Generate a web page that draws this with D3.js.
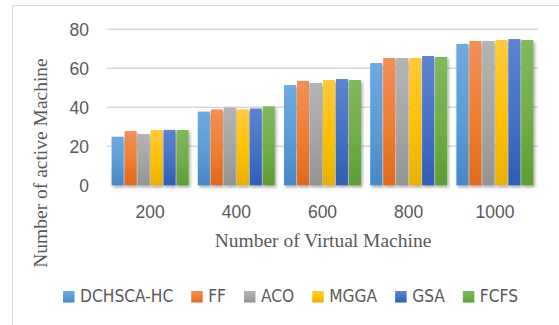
<!DOCTYPE html>
<html>
<head>
<meta charset="utf-8">
<script src="https://cdn.jsdelivr.net/npm/d3@7"></script>
<style>
  html, body { margin: 0; padding: 0; background: #fff; }
  svg { display: block; }
</style>
</head>
<body>
<svg id="chart" width="559" height="325"></svg>
<script>
// Active machines per algorithm for each VM count
const categories = ["200", "400", "600", "800", "1000"];
const seriesNames = ["DCHSCA-HC", "FF", "ACO", "MGGA", "GSA", "FCFS"];
const dchscaHC = [24.9, 37.8, 51.4, 62.7, 72.5];
const ff       = [27.8, 38.9, 53.5, 65.3, 74.0];
const aco      = [26.3, 39.9, 52.5, 65.3, 74.0];
const mgga     = [28.4, 38.9, 54.0, 65.3, 74.5];
const gsa      = [28.4, 39.4, 54.5, 66.3, 75.0];
const fcfs     = [28.4, 40.5, 54.0, 65.8, 74.5];
const yTicks = [0, 20, 40, 60, 80];
const xTitle = "Number of Virtual Machine";
const yTitle = "Number of active Machine";

const seriesValues = [dchscaHC, ff, aco, mgga, gsa, fcfs];
// [top, middle, bottom] gradient stops for each series
const seriesColors = [
  ["#6fa9df", "#5b9bd5", "#4787c6"],
  ["#f1905a", "#ed7d31", "#e0691e"],
  ["#b4b4b4", "#a5a5a5", "#939393"],
  ["#ffca3d", "#ffc000", "#e8b000"],
  ["#5d84cf", "#4472c4", "#2f5db3"],
  ["#80b85d", "#70ad47", "#5e9d35"]
];

const svg = d3.select("#chart");
const sansFont = "'Liberation Sans Narrow', 'DejaVu Sans Condensed', 'Liberation Sans', Arial, sans-serif";
const serifFont = "'Liberation Serif', 'Times New Roman', serif";

// chart frame (left and top edges visible)
svg.append("path")
  .attr("d", "M12.5,325 V5.5 H559")
  .attr("fill", "none")
  .attr("stroke", "#d9d9d9")
  .attr("stroke-width", 1);

const defs = svg.append("defs");
seriesColors.forEach((c, i) => {
  const g = defs.append("linearGradient")
    .attr("id", "grad" + i)
    .attr("x1", 0).attr("y1", 0).attr("x2", 0).attr("y2", 1);
  g.append("stop").attr("offset", "0%").attr("stop-color", c[0]);
  g.append("stop").attr("offset", "55%").attr("stop-color", c[1]);
  g.append("stop").attr("offset", "100%").attr("stop-color", c[2]);
});
const shadow = defs.append("filter").attr("id", "shadow")
  .attr("x", "-30%").attr("y", "-10%").attr("width", "180%").attr("height", "130%");
shadow.append("feDropShadow")
  .attr("dx", 1.5).attr("dy", 2).attr("stdDeviation", 1.4)
  .attr("flood-color", "#000").attr("flood-opacity", 0.35);

const x0 = d3.scaleBand()
  .domain(categories)
  .range([107, 538])
  .paddingInner(0.107)
  .paddingOuter(0.0535);
const x1 = d3.scaleBand()
  .domain(seriesNames)
  .range([0, x0.bandwidth()])
  .paddingInner(1 / 13);
const y = d3.scaleLinear().domain([0, 80]).range([185.3, 29.3]);

// gridlines
svg.append("g")
  .selectAll("line")
  .data(yTicks.filter(d => d > 0))
  .join("line")
  .attr("x1", 107).attr("x2", 538)
  .attr("y1", d => y(d)).attr("y2", d => y(d))
  .attr("stroke", "#d9d9d9")
  .attr("stroke-width", 1.6);

// bars
const groups = svg.append("g")
  .selectAll("g")
  .data(categories)
  .join("g")
  .attr("transform", c => `translate(${x0(c)},0)`);
groups.selectAll("rect")
  .data((c, ci) => seriesNames.map((s, si) => ({ s, si, v: seriesValues[si][ci] })))
  .join("rect")
  .attr("x", d => x1(d.s))
  .attr("width", x1.bandwidth())
  .attr("y", d => y(d.v))
  .attr("height", d => y(0) - y(d.v))
  .attr("fill", d => `url(#grad${d.si})`)
  .attr("filter", "url(#shadow)");

// category axis line
svg.append("line")
  .attr("x1", 107).attr("x2", 538)
  .attr("y1", y(0) - 1.2).attr("y2", y(0) - 1.2)
  .attr("stroke", "#d9d9d9")
  .attr("stroke-width", 3.2)
  .attr("filter", "url(#shadow)");

// value axis labels
const yAxis = d3.axisLeft(y).tickValues(yTicks).tickSize(0).tickPadding(0);
const yg = svg.append("g").attr("transform", "translate(89,0)").call(yAxis);
yg.select(".domain").remove();
yg.selectAll("text")
  .attr("fill", "#595959")
  .style("font-family", "'Liberation Sans', Arial, sans-serif")
  .style("font-size", "17.5px")
  .attr("dy", "0.35em");

// category axis labels
const xAxis = d3.axisBottom(x0).tickSize(0).tickPadding(0);
const xg = svg.append("g").attr("transform", "translate(0,211.5)").call(xAxis);
xg.select(".domain").remove();
xg.selectAll("text")
  .attr("fill", "#595959")
  .style("font-family", "'Liberation Sans', Arial, sans-serif")
  .style("font-size", "17.5px")
  .attr("dy", "0.35em");

// axis titles
svg.append("text")
  .attr("x", 323).attr("y", 246.5)
  .attr("text-anchor", "middle")
  .attr("fill", "#595959")
  .style("font-family", serifFont)
  .style("font-size", "19.5px")
  .text(xTitle);
svg.append("text")
  .attr("transform", "translate(46.5,163) rotate(-90)")
  .attr("text-anchor", "middle")
  .attr("fill", "#595959")
  .style("font-family", serifFont)
  .style("font-size", "19.5px")
  .text(yTitle);

// legend, laid out from measured label widths and centred in the chart frame
const legend = svg.append("g");
const items = legend.selectAll("g")
  .data(seriesNames)
  .join("g");
items.append("rect")
  .attr("y", 291)
  .attr("width", 11.5).attr("height", 11.5)
  .attr("fill", (d, i) => `url(#grad${i})`);
items.append("text")
  .attr("x", 17)
  .attr("y", 302.3)
  .attr("fill", "#595959")
  .style("font-family", sansFont)
  .style("font-size", "17.2px")
  .text(d => d);
const widths = [];
items.each(function () {
  const w = 17 + d3.select(this).select("text").node().getComputedTextLength();
  widths.push(w);
});
const total = d3.sum(widths) + 18 * (widths.length - 1);
let cursor = 290.5 - total / 2;
items.attr("transform", (d, i) => {
  const t = `translate(${cursor},0)`;
  cursor += widths[i] + 18;
  return t;
});
</script>
</body>
</html>
